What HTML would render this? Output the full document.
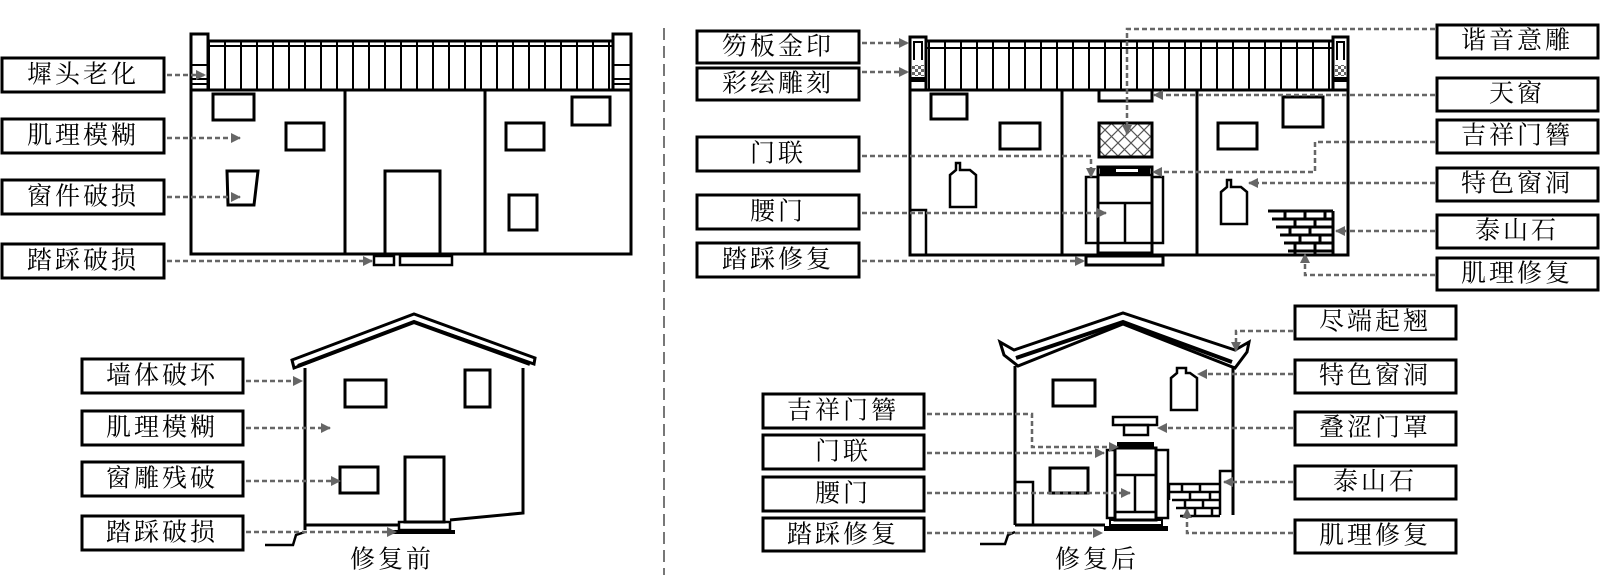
<!DOCTYPE html>
<html><head><meta charset="utf-8"><style>html,body{margin:0;padding:0;background:#fff;width:1600px;height:575px;overflow:hidden}</style></head>
<body>
<svg width="1600" height="575" viewBox="0 0 1600 575" xmlns="http://www.w3.org/2000/svg" font-family="'Liberation Serif','Noto Serif CJK SC',serif">
<defs>
<marker id="a" viewBox="0 0 10 10" refX="9" refY="5" markerWidth="4" markerHeight="4" orient="auto"><path d="M0,0L10,5L0,10z" fill="#666"/></marker>
<pattern id="st" width="16" height="60" patternUnits="userSpaceOnUse"><line x1="1" y1="0" x2="1" y2="60" stroke="#000" stroke-width="2"/></pattern>
<pattern id="lat" width="13" height="13" patternUnits="userSpaceOnUse"><path d="M0,0L13,13M13,0L0,13" stroke="#555" stroke-width="1.2"/></pattern>
<pattern id="chk" width="6" height="6" patternUnits="userSpaceOnUse"><rect width="3" height="3" fill="#666"/><rect x="3" y="3" width="3" height="3" fill="#666"/></pattern>
</defs>
<style>
.b{fill:#fff;stroke:#000;stroke-width:3}
.l{fill:none;stroke:#000;stroke-width:3}
.d{fill:none;stroke:#666;stroke-width:2.5;stroke-dasharray:5 3;marker-end:url(#a)}
text{font-size:25px;letter-spacing:3px;text-anchor:middle;dominant-baseline:central;fill:#000}
</style>

<line x1="664" y1="28" x2="664" y2="575" stroke="#777" stroke-width="2" stroke-dasharray="12 6"/>

<!-- ===== TOP LEFT ===== -->
<rect x="208" y="41" width="405" height="49" fill="url(#st)"/>
<rect x="208" y="41" width="405" height="49" class="l"/>
<line x1="208" y1="46" x2="613" y2="46" stroke="#000" stroke-width="2"/>
<rect x="191" y="34" width="17" height="56" class="b"/>
<line x1="191" y1="65" x2="208" y2="65" stroke="#000" stroke-width="2"/><line x1="191" y1="79" x2="208" y2="79" stroke="#000" stroke-width="2"/><line x1="191" y1="84" x2="208" y2="84" stroke="#000" stroke-width="2"/>
<rect x="613" y="34" width="18" height="56" class="b"/>
<line x1="613" y1="65" x2="631" y2="65" stroke="#000" stroke-width="2"/><line x1="613" y1="79" x2="631" y2="79" stroke="#000" stroke-width="2"/><line x1="613" y1="84" x2="631" y2="84" stroke="#000" stroke-width="2"/>
<rect x="191" y="90" width="440" height="164" class="l"/>
<line x1="345" y1="90" x2="345" y2="254" class="l"/><line x1="485" y1="90" x2="485" y2="254" class="l"/>
<rect x="213" y="94" width="41" height="26" class="l"/>
<rect x="286" y="123" width="38" height="27" class="l"/>
<path d="M227,171L258,171L254,205L228,205Z" class="l"/>
<rect x="385" y="171" width="55" height="83" class="l"/>
<rect x="506" y="123" width="38" height="27" class="l"/>
<rect x="572" y="97" width="38" height="28" class="l"/>
<rect x="509" y="195" width="28" height="35" class="l"/>
<rect x="374" y="256" width="20" height="9" class="l" style="stroke-width:2.5"/>
<rect x="400" y="256" width="52" height="9" class="l" style="stroke-width:2.5"/>

<rect x="2" y="58" width="162" height="34" class="b"/><text x="83" y="75">墀头老化</text>
<rect x="2" y="119" width="162" height="34" class="b"/><text x="83" y="136">肌理模糊</text>
<rect x="2" y="180" width="162" height="34" class="b"/><text x="83" y="197">窗件破损</text>
<rect x="2" y="244" width="162" height="34" class="b"/><text x="83" y="261">踏踩破损</text>
<line x1="167" y1="75" x2="205" y2="75" class="d"/>
<line x1="167" y1="138" x2="240" y2="138" class="d"/>
<line x1="167" y1="197" x2="240" y2="197" class="d"/>
<line x1="167" y1="261" x2="372" y2="261" class="d"/>

<!-- ===== BOTTOM LEFT ===== -->
<path d="M292,360L414,314L535,358L534,364L414,322L294,368Z" class="b" style="stroke-width:3"/>
<path d="M298,366L414,322L530,364" fill="none" stroke="#000" stroke-width="4"/>
<path d="M305,368L305,530M523,368L523,513L450,520M305,525L400,525" class="l"/>
<rect x="345" y="380" width="41" height="27" class="l"/>
<rect x="465" y="370" width="25" height="37" class="l"/>
<rect x="340" y="467" width="38" height="26" class="l"/>
<rect x="405" y="457" width="39" height="65" class="l"/>
<rect x="399" y="522" width="51" height="8" class="l" style="stroke-width:2.5"/>
<rect x="393" y="530" width="62" height="4" fill="#000"/>
<path d="M265,545L293,545L296,535L305,532" class="l" style="stroke-width:2.5"/>
<text x="392" y="560" style="font-size:25px">修复前</text>

<rect x="82" y="359" width="161" height="34" class="b"/><text x="162" y="376">墙体破坏</text>
<rect x="82" y="411" width="161" height="34" class="b"/><text x="162" y="428">肌理模糊</text>
<rect x="82" y="462" width="161" height="34" class="b"/><text x="162" y="479">窗雕残破</text>
<rect x="82" y="516" width="161" height="34" class="b"/><text x="162" y="533">踏踩破损</text>
<line x1="246" y1="381" x2="302" y2="381" class="d"/>
<line x1="246" y1="428" x2="330" y2="428" class="d"/>
<line x1="246" y1="481" x2="340" y2="481" class="d"/>
<line x1="246" y1="532" x2="396" y2="532" class="d"/>

<!-- ===== TOP RIGHT ===== -->
<rect x="926" y="41" width="407" height="49" fill="url(#st)"/>
<rect x="926" y="41" width="407" height="49" class="l"/>
<line x1="926" y1="48" x2="1333" y2="48" stroke="#000" stroke-width="2"/>
<rect x="910" y="37" width="16" height="53" class="b"/>
<path d="M914,60L914,42L922,42L922,60" fill="none" stroke="#000" stroke-width="2"/>
<rect x="912" y="65" width="12" height="11" fill="url(#chk)"/>
<rect x="910" y="77" width="16" height="5" fill="#000"/>
<rect x="1333" y="37" width="15" height="53" class="b"/>
<path d="M1337,60L1337,42L1344,42L1344,60" fill="none" stroke="#000" stroke-width="2"/>
<rect x="1335" y="65" width="11" height="11" fill="url(#chk)"/>
<rect x="1333" y="77" width="15" height="5" fill="#000"/>
<rect x="910" y="90" width="438" height="165" class="l"/>
<line x1="1062" y1="90" x2="1062" y2="255" class="l"/><line x1="1197" y1="90" x2="1197" y2="255" class="l"/>
<path d="M910,210L926,210L926,255" class="l" style="stroke-width:2.5"/>
<rect x="931" y="94" width="36" height="25" class="l"/>
<rect x="1000" y="123" width="40" height="26" class="l"/>
<rect x="1283" y="97" width="40" height="30" class="l"/>
<rect x="1218" y="123" width="39" height="26" class="l"/>
<rect x="1099" y="90" width="53" height="11" class="l"/>
<rect x="1099" y="123" width="53" height="34" fill="url(#lat)"/>
<rect x="1099" y="123" width="53" height="34" class="l"/>
<path d="M956,163L956,170L950,175L950,207L976,207L976,175L970,170L960,170L960,163Z" class="l" style="stroke-width:2.5"/>
<path d="M1227,180L1227,187L1221,192L1221,224L1247,224L1247,192L1241,187L1231,187L1231,180Z" class="l" style="stroke-width:2.5"/>
<rect x="1086" y="177" width="12" height="66" class="l" style="stroke-width:2.5"/>
<rect x="1152" y="177" width="11" height="66" class="l" style="stroke-width:2.5"/>
<rect x="1098" y="167" width="54" height="86" class="l"/>
<rect x="1100" y="168" width="50" height="6" fill="#000"/>
<rect x="1116" y="169" width="22" height="3" fill="#fff"/>
<line x1="1098" y1="175" x2="1152" y2="175" class="l" style="stroke-width:2.5"/>
<line x1="1098" y1="203" x2="1152" y2="203" class="l" style="stroke-width:2.5"/>
<line x1="1125" y1="203" x2="1125" y2="243" class="l" style="stroke-width:2.5"/>
<line x1="1098" y1="243" x2="1152" y2="243" class="l" style="stroke-width:2.5"/>
<rect x="1086" y="256" width="77" height="9" class="l"/>
<path d="M1268,211L1333,211M1272,219L1333,219M1276,227L1333,227M1280,235L1333,235M1284,243L1333,243M1288,251L1333,251M1285,211L1285,219M1305,211L1305,219M1325,211L1325,219M1295,219L1295,227M1315,219L1315,227M1290,227L1290,235M1310,227L1310,235M1300,235L1300,243M1320,235L1320,243M1295,243L1295,255M1315,243L1315,255M1333,211L1333,255" fill="none" stroke="#000" stroke-width="3"/>

<rect x="697" y="31" width="162" height="32" class="b"/><text x="778" y="47">笏板金印</text>
<rect x="697" y="68" width="162" height="32" class="b"/><text x="778" y="84">彩绘雕刻</text>
<rect x="697" y="137" width="162" height="34" class="b"/><text x="778" y="154">门联</text>
<rect x="697" y="195" width="162" height="34" class="b"/><text x="778" y="212">腰门</text>
<rect x="697" y="243" width="162" height="34" class="b"/><text x="778" y="260">踏踩修复</text>
<rect x="1437" y="25" width="161" height="33" class="b"/><text x="1517" y="41">谐音意雕</text>
<rect x="1437" y="78" width="161" height="33" class="b"/><text x="1517" y="94">天窗</text>
<rect x="1437" y="120" width="161" height="33" class="b"/><text x="1517" y="136">吉祥门簪</text>
<rect x="1437" y="168" width="161" height="33" class="b"/><text x="1517" y="184">特色窗洞</text>
<rect x="1437" y="215" width="161" height="33" class="b"/><text x="1517" y="231">泰山石</text>
<rect x="1437" y="258" width="161" height="32" class="b"/><text x="1517" y="274">肌理修复</text>

<line x1="862" y1="43" x2="908" y2="43" class="d"/>
<line x1="862" y1="72" x2="908" y2="72" class="d"/>
<polyline points="862,156 1091,156 1091,177" class="d"/>
<line x1="862" y1="213" x2="1106" y2="213" class="d"/>
<line x1="862" y1="261" x2="1084" y2="261" class="d"/>
<polyline points="1435,29 1127,29 1127,134" class="d"/>
<line x1="1435" y1="95" x2="1154" y2="95" class="d"/>
<polyline points="1435,142 1315,142 1315,172 1153,172" class="d"/>
<line x1="1435" y1="183" x2="1249" y2="183" class="d"/>
<line x1="1435" y1="231" x2="1336" y2="231" class="d"/>
<polyline points="1435,275 1305,275 1305,254" class="d"/>

<!-- ===== BOTTOM RIGHT ===== -->
<path d="M1000,342L1014,350L1123,313L1235,350L1249,342L1247,352L1235,368L1123,324L1018,366L1004,355Z" class="b" style="stroke-width:3"/>
<path d="M1016,358L1123,322L1232,362" fill="none" stroke="#000" stroke-width="4"/>
<path d="M1015,366L1015,525M1233,366L1233,515M1015,525L1105,525" class="l"/>
<rect x="1053" y="380" width="42" height="26" class="l"/>
<path d="M1177,368L1177,373L1171,378L1171,410L1197,410L1197,378L1190,373L1186,373L1186,368Z" class="l" style="stroke-width:2.5"/>
<rect x="1050" y="468" width="38" height="25" class="l"/>
<rect x="1113" y="417" width="44" height="8" class="l" style="stroke-width:2.5"/>
<rect x="1124" y="425" width="24" height="10" class="l" style="stroke-width:2.5"/>
<rect x="1117" y="442" width="37" height="7" fill="#000"/>
<rect x="1107" y="450" width="8" height="68" class="l" style="stroke-width:2.5"/>
<rect x="1156" y="450" width="12" height="68" class="l" style="stroke-width:2.5"/>
<rect x="1115" y="448" width="41" height="72" class="l"/>
<line x1="1115" y1="475" x2="1156" y2="475" class="l" style="stroke-width:2.5"/>
<line x1="1135" y1="475" x2="1135" y2="512" class="l" style="stroke-width:2.5"/>
<line x1="1115" y1="512" x2="1156" y2="512" class="l" style="stroke-width:2.5"/>
<rect x="1110" y="520" width="52" height="5" class="l" style="stroke-width:2"/>
<rect x="1104" y="526" width="64" height="5" fill="#000"/>
<path d="M1169,484L1220,484M1169,492L1220,492M1172,500L1220,500M1176,508L1220,508M1180,516L1220,516M1182,484L1182,492M1200,484L1200,492M1190,492L1190,500M1210,492L1210,500M1185,500L1185,508M1203,500L1203,508M1195,508L1195,516M1212,508L1212,516M1169,484L1169,500" fill="none" stroke="#000" stroke-width="2.5"/>
<path d="M1220,515L1220,471L1233,471" class="l" style="stroke-width:2.5"/>
<path d="M1033,525L1033,482L1015,482" class="l" style="stroke-width:2.5"/>
<path d="M980,544L1005,544L1008,535L1015,532" class="l" style="stroke-width:2.5"/>
<text x="1097" y="560" style="font-size:25px">修复后</text>

<rect x="763" y="394" width="161" height="34" class="b"/><text x="843" y="411">吉祥门簪</text>
<rect x="763" y="435" width="161" height="34" class="b"/><text x="843" y="452">门联</text>
<rect x="763" y="477" width="161" height="34" class="b"/><text x="843" y="494">腰门</text>
<rect x="763" y="518" width="161" height="33" class="b"/><text x="843" y="535">踏踩修复</text>
<rect x="1295" y="306" width="161" height="33" class="b"/><text x="1375" y="322">尽端起翘</text>
<rect x="1295" y="360" width="161" height="33" class="b"/><text x="1375" y="376">特色窗洞</text>
<rect x="1295" y="412" width="161" height="33" class="b"/><text x="1375" y="428">叠涩门罩</text>
<rect x="1295" y="466" width="161" height="33" class="b"/><text x="1375" y="482">泰山石</text>
<rect x="1295" y="520" width="161" height="33" class="b"/><text x="1375" y="536">肌理修复</text>

<polyline points="927,414 1032,414 1032,447 1118,447" class="d"/>
<line x1="927" y1="453" x2="1104" y2="453" class="d"/>
<line x1="927" y1="493" x2="1130" y2="493" class="d"/>
<line x1="927" y1="533" x2="1102" y2="533" class="d"/>
<polyline points="1293,331 1236,331 1236,351" class="d"/>
<line x1="1293" y1="374" x2="1198" y2="374" class="d"/>
<line x1="1293" y1="428" x2="1158" y2="428" class="d"/>
<line x1="1293" y1="482" x2="1224" y2="482" class="d"/>
<polyline points="1293,533 1187,533 1187,509" class="d"/>
</svg>
</body></html>
